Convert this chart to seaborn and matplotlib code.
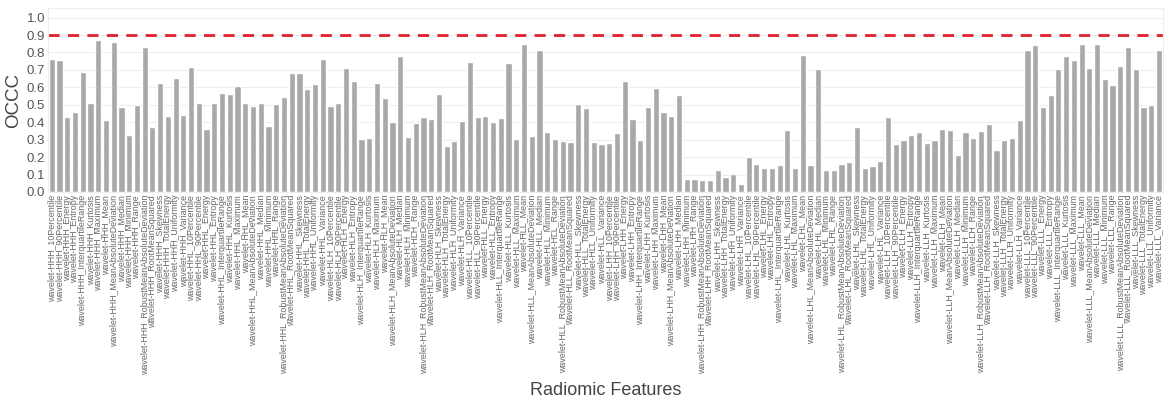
import matplotlib
matplotlib.use('Agg')
import matplotlib.pyplot as plt
import pandas as pd
import seaborn as sns

# Wavelet sub-bands and first-order features (pyradiomics naming)
bands = ['HHH', 'HHL', 'HLH', 'HLL', 'LHH', 'LHL', 'LLH', 'LLL']
stats = ['10Percentile', '90Percentile', 'Energy', 'Entropy', 'InterquartileRange',
         'Kurtosis', 'Maximum', 'Mean', 'MeanAbsoluteDeviation', 'Median', 'Minimum',
         'Range', 'RobustMeanAbsoluteDeviation', 'RootMeanSquared', 'Skewness',
         'TotalEnergy', 'Uniformity', 'Variance']

# OCCC values, one list per sub-band
occc_hhh = [0.76, 0.755, 0.43, 0.46, 0.69, 0.51, 0.87, 0.41, 0.86, 0.49, 0.325, 0.50,
            0.83, 0.375, 0.625, 0.437, 0.654, 0.44]
occc_hhl = [0.717, 0.508, 0.36, 0.51, 0.57, 0.56, 0.607, 0.508, 0.494, 0.508, 0.379, 0.504,
            0.544, 0.68, 0.68, 0.592, 0.621, 0.765]
occc_hlh = [0.492, 0.508, 0.713, 0.637, 0.306, 0.312, 0.623, 0.538, 0.402, 0.781, 0.317, 0.396,
            0.429, 0.417, 0.56, 0.265, 0.294, 0.408]
occc_hll = [0.746, 0.431, 0.435, 0.404, 0.425, 0.738, 0.302, 0.85, 0.319, 0.815, 0.346, 0.302,
            0.294, 0.288, 0.506, 0.481, 0.287, 0.273]
occc_lhh = [0.279, 0.34, 0.638, 0.417, 0.30, 0.488, 0.596, 0.46, 0.435, 0.554, 0.077, 0.073,
            0.069, 0.069, 0.127, 0.088, 0.104, 0.046]
occc_lhl = [0.202, 0.163, 0.137, 0.137, 0.154, 0.356, 0.138, 0.785, 0.156, 0.708, 0.127, 0.127,
            0.158, 0.173, 0.375, 0.135, 0.15, 0.177]
occc_llh = [0.429, 0.275, 0.30, 0.325, 0.344, 0.283, 0.296, 0.363, 0.356, 0.21, 0.342, 0.31,
            0.348, 0.39, 0.242, 0.30, 0.312, 0.41]
occc_lll = [0.813, 0.84, 0.487, 0.558, 0.708, 0.779, 0.754, 0.85, 0.713, 0.846, 0.65, 0.612,
            0.721, 0.831, 0.706, 0.487, 0.496, 0.815]

threshold = 0.9

all_vals = [occc_hhh, occc_hhl, occc_hlh, occc_hll, occc_lhh, occc_lhl, occc_llh, occc_lll]
features, values = [], []
for band, vals in zip(bands, all_vals):
    for s, v in zip(stats, vals):
        features.append(f'wavelet-{band}_{s}')
        values.append(v)
df = pd.DataFrame({'feature': features, 'occc': values})

sns.set_theme(style='whitegrid')
plt.rcParams['font.family'] = ['Liberation Sans', 'DejaVu Sans']

fig = plt.figure(figsize=(11.67, 4.0), dpi=100)
ax = fig.add_axes([0.041, 0.52, 0.9555, 0.46])

sns.barplot(data=df, x='feature', y='occc', order=features, color='#A9A9AB',
            saturation=1, width=0.8, ax=ax)
ax.axhline(threshold, color='#E0202A', linestyle=(0, (4, 3)), linewidth=2)

ax.set_ylim(0, 1.055)
ax.set_xlim(-0.5, len(features) - 0.5)
ax.set_yticks([i / 10 for i in range(11)])
ax.set_yticklabels([f'{i / 10:.1f}' for i in range(11)], fontsize=9.5, color='#555555')
ax.tick_params(axis='x', labelrotation=90, labelsize=6.4, labelcolor='#666666', pad=2, length=0)
ax.tick_params(axis='y', pad=2, length=0)
ax.grid(axis='x', visible=False)
ax.grid(axis='y', color='#EDEDED', linewidth=0.8)
for sp in ax.spines.values():
    sp.set_color('#EEEEEE')
    sp.set_linewidth(0.8)

ax.set_ylabel('OCCC', fontsize=13.5, color='#444444', labelpad=3)
ax.set_xlabel('Radiomic Features', fontsize=13, color='#444444')
ax.xaxis.set_label_coords(0.5, -1.03)

fig.savefig('out.png', dpi=100)
plt.close(fig)
